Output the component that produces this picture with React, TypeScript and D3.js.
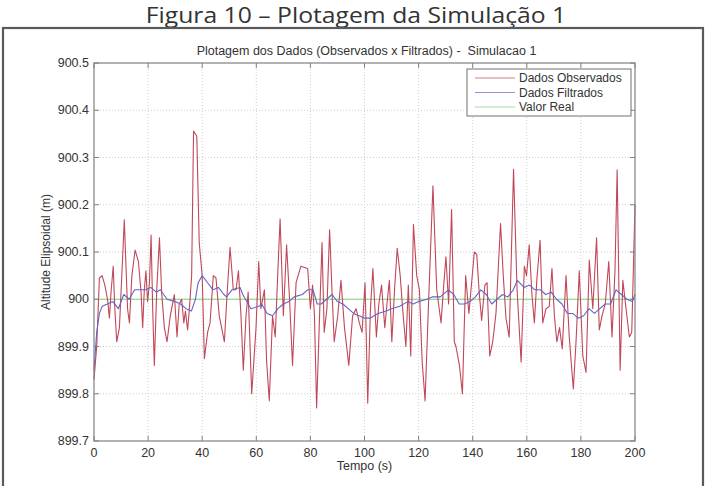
import * as d3 from 'd3';

const obsTime = [
  0, 1, 2, 3, 4, 5, 5.7, 6.3, 7.1, 7.7, 8.4, 9.4, 10.2, 11.2, 12.4, 13.1, 14, 15.2, 16.4, 17.4,
  18, 18.6, 19.2, 19.8, 20.5, 21.1, 21.7, 22.3, 23.2, 24.2, 25, 26, 27, 28.2, 29.7, 30.7, 31.5, 32.4, 33.2, 33.8,
  34.6, 35.2, 36.1, 36.8, 38, 38.9, 40, 40.8, 42, 42.9, 44.1, 45.1, 46.3, 48.2, 49.4, 50.3, 51.5, 52.5, 53.4, 54.3,
  55.2, 56.2, 57, 58.3, 59.9, 60.9, 61.7, 63, 63.8, 64.8, 66, 67, 67.9, 68.8, 70, 71.2, 72.2, 73.4, 74.7, 76.5,
  79, 80, 80.8, 81.5, 82.3, 83.3, 84.3, 85.1, 86.1, 87.1, 88, 88.8, 90.1, 91.3, 92.6, 94.2, 95.6, 96.9, 98.1, 99.1,
  100.2, 101.2, 102.2, 103.1, 104.4, 105.3, 106.3, 107.5, 108.3, 109.2, 110.1, 111.1, 112.1, 113.2, 114.1, 115.3, 116.2, 117.1, 118.1, 119.3,
  120.3, 121.3, 122.4, 123.6, 125.3, 126.7, 128.3, 129.1, 130.1, 131.1, 132.2, 133.2, 133.8, 135.1, 136.2, 137.4, 138.6, 140.6, 141.5, 142.4,
  143.3, 144.5, 145.3, 146.3, 147.4, 148.6, 150.3, 151.3, 152.3, 153.5, 155.1, 156.4, 157.9, 159.1, 159.9, 160.9, 161.9, 162.8, 163.7, 164.9,
  165.9, 167.1, 168.3, 169.3, 170.2, 171.1, 172.1, 173.1, 174.5, 175.7, 177.2, 178.2, 179.4, 180.7, 181.9, 183.1, 184.4, 185.8, 186.8, 187.8,
  189, 190.3, 191.5, 192.6, 193.4, 194.5, 195.5, 196.7, 197.9, 198.8, 200,
];
const obsValue = [
  899.83, 899.9, 900.045, 900.05, 900.03, 900.0, 899.96, 900.015, 900.07, 899.98, 899.91, 899.94, 900.04, 900.168, 899.98, 899.95, 900.05, 900.104, 900.08, 900.015,
  899.94, 900.02, 900.06, 899.995, 900.035, 900.136, 899.98, 899.86, 900.02, 900.13, 900.015, 899.94, 899.91, 899.965, 900.01, 899.92, 899.99, 900.0, 899.95, 899.975,
  899.935, 899.975, 900.05, 900.356, 900.345, 900.12, 900.05, 899.874, 899.93, 899.95, 900.05, 900.045, 899.965, 899.91, 900.03, 900.11, 900.02, 900.02, 900.06, 899.97,
  899.85, 899.965, 900.015, 899.8, 899.94, 900.08, 899.98, 900.02, 899.87, 899.785, 899.965, 899.92, 900.05, 900.17, 899.965, 900.115, 900.01, 899.86, 900.035, 900.07,
  900.065, 899.98, 900.03, 899.965, 899.77, 899.95, 900.12, 899.93, 899.98, 900.147, 900.015, 899.91, 899.965, 900.04, 899.94, 899.86, 899.965, 899.98, 899.95, 899.93,
  900.035, 899.78, 899.98, 900.065, 899.92, 899.99, 900.03, 899.94, 899.99, 900.04, 899.91, 900.02, 900.108, 900.05, 899.98, 899.9, 900.03, 899.88, 900.158, 900.05,
  900.02, 899.87, 899.785, 899.98, 900.24, 900.02, 899.95, 900.015, 900.09, 899.99, 900.19, 899.91, 899.9, 899.86, 899.8, 900.05, 899.97, 900.1, 900.095, 900.015,
  899.955, 900.03, 900.035, 899.88, 899.91, 899.97, 900.16, 900.05, 899.96, 899.92, 900.275, 900.02, 899.867, 900.07, 900.05, 900.115, 900.01, 899.95, 900.04, 900.125,
  899.95, 899.98, 899.985, 900.065, 899.965, 899.91, 899.94, 899.895, 900.05, 899.92, 899.81, 899.91, 900.06, 899.88, 899.845, 900.083, 899.98, 900.13, 899.935, 899.965,
  899.99, 900.08, 899.92, 900.06, 900.274, 899.85, 900.04, 899.98, 899.92, 899.93, 900.2,
];

// filtered data
const filtTime = [
  0, 1, 2, 3, 5, 7, 9, 11, 13, 15, 17, 19, 21, 23, 24.5, 27, 30, 32, 34, 36,
  37.5, 38.5, 40, 42, 44, 46, 48, 49, 51, 54, 55, 56, 58, 61, 62, 64, 66, 68, 70, 72,
  74, 77, 79, 81, 82.5, 84, 86, 88, 90, 92, 94, 96, 98, 100, 102, 105, 108, 110, 113, 116,
  118, 120, 123, 125, 128, 131, 133, 135, 137, 139, 141, 143, 145, 147, 149, 151, 153, 155, 156.5, 159,
  161, 163, 165, 167, 169, 171, 173, 175, 177, 179, 181, 183, 185, 187, 189, 191, 193, 195, 197, 199, 200,
];
const filtValue = [
  899.85, 899.93, 899.97, 899.985, 899.99, 899.995, 899.98, 900.01, 900.0, 900.02, 900.02, 900.02, 900.025, 900.015, 900.02, 900.0, 899.995, 899.99, 899.98, 899.975,
  900.0, 900.035, 900.05, 900.035, 900.02, 900.025, 900.01, 900.005, 900.02, 900.025, 900.01, 900.0, 899.98, 899.985, 899.99, 899.97, 899.965, 899.98, 899.99, 899.995,
  900.005, 900.01, 900.02, 900.02, 899.99, 899.99, 900.0, 900.01, 899.995, 899.99, 899.98, 899.97, 899.965, 899.96, 899.96, 899.97, 899.975, 899.98, 899.985, 899.995,
  899.99, 899.995, 900.0, 900.005, 900.005, 900.02, 900.01, 899.99, 899.99, 899.995, 900.005, 900.02, 900.01, 899.99, 900.0, 900.01, 900.005, 900.02, 900.04, 900.025,
  900.03, 900.02, 900.02, 900.01, 900.015, 900.0, 899.99, 899.97, 899.97, 899.96, 899.965, 899.98, 899.97, 899.98, 899.99, 899.99, 900.02, 900.01, 900.0, 899.995, 900.01,
];

const realTime = [0, 200];
const realValue = [900, 900];

const xTicks = [0, 20, 40, 60, 80, 100, 120, 140, 160, 180, 200];
const yTicks = [899.7, 899.8, 899.9, 900, 900.1, 900.2, 900.3, 900.4, 900.5];
const yTickLabels = ['899.7', '899.8', '899.9', '900', '900.1', '900.2', '900.3', '900.4', '900.5'];

const legendNames = ['Dados Observados', 'Dados Filtrados', 'Valor Real'];
const seriesColors = ['#c04858', '#6464c4', '#7fd37f'];

const W = 710;
const H = 486;
const plot = { left: 94, right: 635, top: 63, bottom: 441 };
const axisFont = '"Liberation Sans", Arial, sans-serif';

export default function App() {
  const x = d3.scaleLinear().domain([0, 200]).range([plot.left, plot.right]);
  const y = d3.scaleLinear().domain([899.7, 900.5]).range([plot.bottom, plot.top]);

  const line = d3.line<[number, number]>()
    .x(d => x(d[0]))
    .y(d => y(d[1]));

  const obs = obsTime.map((t, i) => [t, obsValue[i]] as [number, number]);
  const filt = filtTime.map((t, i) => [t, filtValue[i]] as [number, number]);
  const real = realTime.map((t, i) => [t, realValue[i]] as [number, number]);
  const paths = [line(obs), line(filt), line(real)];

  const midX = (plot.left + plot.right) / 2;

  return (
    <svg width={W} height={H} style={{ position: 'absolute', left: 0, top: 0, background: '#fff' }}>
      <rect x={0} y={0} width={W} height={H} fill="#fff" />

      {/* figure caption */}
      <text transform="translate(356,23) scale(1.15,1)" textAnchor="middle"
        fontFamily='"Open Sans", "Noto Sans", sans-serif' fontSize={21.5} fill="#333">
        Figura 10 – Plotagem da Simulação 1
      </text>

      {/* outer frame */}
      <rect x={3} y={28} width={700} height={480} fill="none" stroke="#5a5a5a" strokeWidth={2.2} />

      {/* grid */}
      {xTicks.slice(1, -1).map(t => (
        <line key={'gx' + t} x1={x(t)} x2={x(t)} y1={plot.top} y2={plot.bottom}
          stroke="#cfcfcf" strokeWidth={1} strokeDasharray="1,2" />
      ))}
      {yTicks.slice(1, -1).map(t => (
        <line key={'gy' + t} x1={plot.left} x2={plot.right} y1={y(t)} y2={y(t)}
          stroke="#cfcfcf" strokeWidth={1} strokeDasharray="1,2" />
      ))}

      {/* data */}
      <g fill="none" strokeLinejoin="round">
        <path d={paths[2] || ''} stroke={seriesColors[2]} strokeWidth={1.2} />
        <path d={paths[0] || ''} stroke={seriesColors[0]} strokeWidth={1.1} />
        <path d={paths[1] || ''} stroke={seriesColors[1]} strokeWidth={1.1} />
      </g>

      {/* axes box and ticks */}
      <rect x={plot.left} y={plot.top} width={plot.right - plot.left} height={plot.bottom - plot.top}
        fill="none" stroke="#808080" strokeWidth={1.2} />
      {xTicks.map(t => (
        <g key={'tx' + t}>
          <line x1={x(t)} x2={x(t)} y1={plot.bottom} y2={plot.bottom - 5} stroke="#808080" />
          <line x1={x(t)} x2={x(t)} y1={plot.top} y2={plot.top + 5} stroke="#808080" />
          <text x={x(t)} y={plot.bottom + 16} textAnchor="middle" fontFamily={axisFont}
            fontSize={12.5} fill="#333">{t}</text>
        </g>
      ))}
      {yTicks.map((t, i) => (
        <g key={'ty' + t}>
          <line x1={plot.left} x2={plot.left + 5} y1={y(t)} y2={y(t)} stroke="#808080" />
          <line x1={plot.right} x2={plot.right - 5} y1={y(t)} y2={y(t)} stroke="#808080" />
          <text x={plot.left - 5} y={y(t) + 4} textAnchor="end" fontFamily={axisFont}
            fontSize={12.5} fill="#333">{yTickLabels[i]}</text>
        </g>
      ))}

      {/* titles */}
      <text x={midX + 2} y={55} textAnchor="middle" fontFamily={axisFont} fontSize={12.5} fill="#333"
        style={{ whiteSpace: 'pre' }}>
        {'Plotagem dos Dados (Observados x Filtrados) -  Simulacao 1'}
      </text>
      <text x={midX} y={470} textAnchor="middle" fontFamily={axisFont} fontSize={12.5} fill="#333">
        Tempo (s)
      </text>
      <text transform={`translate(50,${(plot.top + plot.bottom) / 2}) rotate(-90)`} textAnchor="middle"
        fontFamily={axisFont} fontSize={12} fill="#333">
        Altitude Elipsoidal (m)
      </text>

      {/* legend */}
      <g>
        <rect x={467} y={69} width={164} height={47} fill="#fff" stroke="#707070" strokeWidth={1} />
        {legendNames.map((name, i) => (
          <g key={name}>
            <line x1={475} x2={515} y1={78 + i * 14.5} y2={78 + i * 14.5} stroke={seriesColors[i]}
              strokeWidth={1.1} opacity={0.7} />
            <text x={519} y={82 + i * 14.5} fontFamily={axisFont} fontSize={12} fill="#333">{name}</text>
          </g>
        ))}
      </g>
    </svg>
  );
}
